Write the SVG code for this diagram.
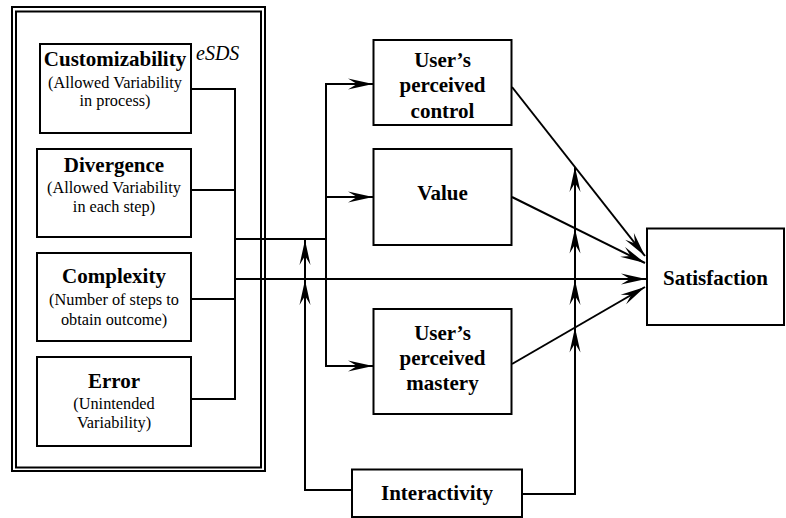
<svg xmlns="http://www.w3.org/2000/svg" width="786" height="518" viewBox="0 0 786 518">
<style>
.box{fill:#fff;stroke:#000;stroke-width:2}
.frame{fill:none;stroke:#000;stroke-width:2}
.ln{fill:none;stroke:#000;stroke-width:2}
text{font-family:'Liberation Serif','DejaVu Serif','Times New Roman',serif;fill:#000}
.t{font-weight:bold;font-size:21px;text-anchor:middle}
.s{font-size:16.3px;text-anchor:middle}
.it{font-style:italic;font-size:20px}
</style>
<defs>
<marker id="ah" markerUnits="userSpaceOnUse" orient="auto" markerWidth="30" markerHeight="14" viewBox="-27 -7 30 14" refX="0" refY="0">
<path d="M0,0 L-25,-5.5 L-16,0 L-25,5.5 Z" fill="#000"/>
</marker>
</defs>
<g id="esds-frame">
<rect class="frame" x="12" y="7" width="253" height="464"/>
<rect class="frame" x="16" y="11.5" width="245" height="456"/>
<text class="it" x="196" y="60" font-family="Liberation Serif, serif">eSDS</text>
</g>
<g id="connectors">
<path class="ln" d="M191,89 H235 V399 H191"/>
<path class="ln" d="M191,190 H235"/>
<path class="ln" d="M191,299 H235"/>
<path class="ln" d="M235,239 H326"/>
<path class="ln" d="M326,239 V84 H373" marker-end="url(#ah)"/>
<path class="ln" d="M326,197 H373" marker-end="url(#ah)"/>
<path class="ln" d="M326,239 V366 H373" marker-end="url(#ah)"/>
<path class="ln" d="M235,279 H646" marker-end="url(#ah)"/>
<path class="ln" d="M512,87 L645,256" marker-end="url(#ah)"/>
<path class="ln" d="M512,197 L645,263" marker-end="url(#ah)"/>
<path class="ln" d="M512,364 L645,287" marker-end="url(#ah)"/>
<path class="ln" d="M352,490 H305 V280" marker-end="url(#ah)"/>
<path class="ln" d="M305,280 V240" marker-end="url(#ah)"/>
<path class="ln" d="M522,494 H575 V327.5" marker-end="url(#ah)"/>
<path class="ln" d="M575,327.5 V280" marker-end="url(#ah)"/>
<path class="ln" d="M575,280 V228.5" marker-end="url(#ah)"/>
<path class="ln" d="M575,228.5 V167" marker-end="url(#ah)"/>
</g>
<g id="customizability">
<rect class="box" x="40" y="44" width="151" height="89"/>
<text class="t" x="115" y="65.5">Customizability</text>
<text class="s" x="115" y="88">(Allowed Variability</text>
<text class="s" x="115" y="106">in process)</text>
</g>
<g id="divergence">
<rect class="box" x="37" y="149" width="154" height="88"/>
<text class="t" x="114" y="171.5">Divergence</text>
<text class="s" x="114" y="193">(Allowed Variability</text>
<text class="s" x="114" y="212">in each step)</text>
</g>
<g id="complexity">
<rect class="box" x="37" y="253" width="154" height="88"/>
<text class="t" x="114" y="283">Complexity</text>
<text class="s" x="114" y="305">(Number of steps to</text>
<text class="s" x="114" y="325">obtain outcome)</text>
</g>
<g id="error">
<rect class="box" x="37" y="357" width="154" height="89"/>
<text class="t" x="114" y="387.5">Error</text>
<text class="s" x="114" y="408.5">(Unintended</text>
<text class="s" x="114" y="427.5">Variability)</text>
</g>
<g id="control">
<rect class="box" x="373.5" y="40" width="138" height="85"/>
<text class="t" x="442.5" y="66.5">User’s</text>
<text class="t" x="442.5" y="92">perceived</text>
<text class="t" x="442.5" y="118">control</text>
</g>
<g id="value">
<rect class="box" x="373.5" y="149" width="138" height="96"/>
<text class="t" x="442.5" y="200">Value</text>
</g>
<g id="mastery">
<rect class="box" x="373.5" y="309" width="138" height="105"/>
<text class="t" x="442.5" y="340">User’s</text>
<text class="t" x="442.5" y="365">perceived</text>
<text class="t" x="442.5" y="390">mastery</text>
</g>
<g id="interactivity">
<rect class="box" x="352" y="469.5" width="170" height="47.5"/>
<text class="t" x="437" y="500">Interactivity</text>
</g>
<g id="satisfaction">
<rect class="box" x="647" y="228.5" width="137" height="96.5"/>
<text class="t" x="715.5" y="285">Satisfaction</text>
</g>
</svg>
